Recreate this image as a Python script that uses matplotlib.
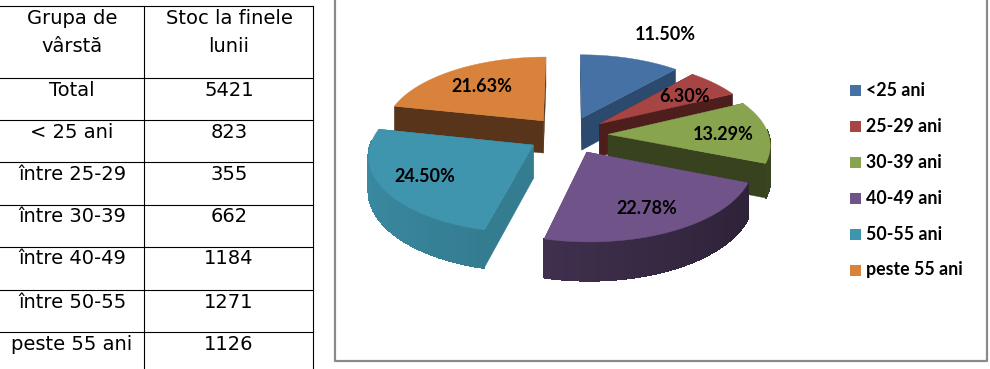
import numpy as np
from matplotlib import pyplot as plt
from matplotlib.colors import to_rgb
from matplotlib.patches import Polygon

# table
col_group = ["Total", "< 25 ani", "între 25-29", "între 30-39", "între 40-49", "între 50-55", "peste 55 ani"]
col_stock = ["5421", "823", "355", "662", "1184", "1271", "1126"]
row_lines = [6, 78, 120, 162, 205, 247, 290, 332]

# pie
labels = ["<25 ani", "25-29 ani", "30-39 ani", "40-49 ani", "50-55 ani", "peste 55 ani"]
shares = [11.50, 6.30, 13.29, 22.78, 24.50, 21.63]
colors = ["#4671A5", "#A64543", "#88A44E", "#705489", "#3F95AE", "#D9823B"]
wall_colors = ["#2B4A6E", "#4E1E1D", "#38421E", "#4A3A63", "#347C90", "#58341A"]
shade_left = [0.6, 0.45, 0.42, 0.67, 0.92, 0.4]
shade_right = [0.6, 0.45, 0.42, 0.40, 0.68, 0.4]
label_pos = [(665, 35), (685, 97), (723, 134), (647, 209), (425, 176), (482, 86)]
draw_order = [0, 5, 1, 2, 4, 3]

CX, CY, R = 568, 135, 160.5
TILT, PERSP, EXPLODE, DEPTH = 0.465, 0.12, 0.25, 33


def project(u, v, drop=0.0):
    f = 1 / (1 + PERSP * v)
    return CX + R * u * f, CY - R * TILT * v * f + drop * f


def drawWedge(ax, a0, a1, top, wall, left, right):
    mid = (a0 + a1) / 2
    ou, ov = EXPLODE * np.sin(mid), EXPLODE * np.cos(mid)
    angles = np.linspace(a0, a1, 60)
    us = ou + np.sin(angles)
    vs = ov + np.cos(angles)

    # cut faces
    for a in (a0, a1):
        eu, ev = ou + np.sin(a), ov + np.cos(a)
        face = [project(ou, ov), project(eu, ev), project(eu, ev, DEPTH), project(ou, ov, DEPTH)]
        ax.add_patch(Polygon(face, facecolor=wall, edgecolor=wall, lw=0.3))

    # outer wall, darker to the right
    rgb = np.array(to_rgb(top))
    for i in range(len(angles) - 1):
        if np.cos((angles[i] + angles[i + 1]) / 2) > 0.05:
            continue
        x_mid = np.sin((angles[i] + angles[i + 1]) / 2)
        col = rgb * (left + (right - left) * (x_mid + 1) / 2)
        quad = [project(us[i], vs[i]), project(us[i + 1], vs[i + 1]),
                project(us[i + 1], vs[i + 1], DEPTH), project(us[i], vs[i], DEPTH)]
        ax.add_patch(Polygon(quad, facecolor=col, edgecolor=col, lw=0.8, antialiased=False))

    # top
    pts = [project(ou, ov)] + [project(u, v) for u, v in zip(us, vs)]
    ax.add_patch(Polygon(pts, facecolor=top, edgecolor=top, lw=0.3))


fig = plt.figure(figsize=(9.9, 3.69), dpi=100)
ax = fig.add_axes([0, 0, 1, 1])
ax.set_xlim(0, 990)
ax.set_ylim(369, 0)
ax.axis("off")

# table lines and text
for y in row_lines:
    ax.plot([0, 313], [y, y], color="black", lw=0.8)
ax.plot([144, 144], [6, 369], color="black", lw=0.8)
ax.plot([313, 313], [6, 369], color="black", lw=0.8)

table_font = dict(family="DejaVu Sans", fontsize=14, ha="center", va="center", color="black")
ax.text(72, 19, "Grupa de", **table_font)
ax.text(72, 47, "vârstă", **table_font)
ax.text(229, 19, "Stoc la finele", **table_font)
ax.text(229, 47, "lunii", **table_font)
for i in range(len(col_group)):
    y = row_lines[i + 1] + 12
    ax.text(72, y, col_group[i], **table_font)
    ax.text(229, y, col_stock[i], **table_font)

# chart frame
ax.plot([335, 335, 987, 987], [0, 361, 361, 0], color="#8A8A8A", lw=1.6)

# pie slices
edges = np.radians(np.cumsum([0] + shares) * 3.6)
for i in draw_order:
    drawWedge(ax, edges[i], edges[i + 1], colors[i], wall_colors[i], shade_left[i], shade_right[i])

for i in range(len(shares)):
    ax.text(label_pos[i][0], label_pos[i][1], "%.2f%%" % shares[i], family="Lato", fontweight="bold",
            fontsize=13, ha="center", va="center", color="black")

# legend
for i in range(len(labels)):
    y = 90 + i * 36
    ax.add_patch(Polygon([(850, y - 5.5), (861, y - 5.5), (861, y + 5.5), (850, y + 5.5)],
                         facecolor=colors[i], edgecolor="none"))
    ax.text(866, y, labels[i], family="Lato", fontweight="bold", fontsize=12.8,
            ha="left", va="center", color="black")

plt.savefig("out.png", dpi=100)
